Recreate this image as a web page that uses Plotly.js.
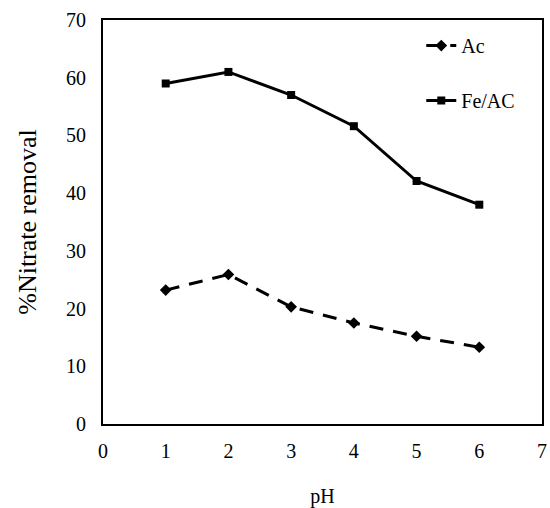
<!DOCTYPE html>
<html>
<head>
<meta charset="utf-8">
<script src="https://cdn.plot.ly/plotly-3.0.1.min.js"></script>
<style>html,body{margin:0;padding:0;background:#fff;}#chart{width:550px;height:508px;}</style>
</head>
<body>
<div id="chart"></div>
<script>
var pH = [1, 2, 3, 4, 5, 6];
var acRemoval = [23.2, 25.9, 20.3, 17.5, 15.2, 13.3];
var feacRemoval = [59.0, 61.0, 57.0, 51.6, 42.1, 38.0];
var xTicks = [0, 1, 2, 3, 4, 5, 6, 7];
var yTicks = [0, 10, 20, 30, 40, 50, 60, 70];

var fam = 'Liberation Serif, Times New Roman, serif';
var font = {family: fam, size: 20, color: '#000'};

var traces = [
  {x: pH, y: acRemoval, name: 'Ac', type: 'scatter', mode: 'lines+markers',
   legendgroup: 'a',
   line: {color: '#000', width: 3, dash: '14px,10px'},
   marker: {symbol: 'diamond', size: 9, color: '#000'}},
  {x: pH, y: feacRemoval, name: 'Fe/AC', type: 'scatter', mode: 'lines+markers',
   legendgroup: 'b',
   line: {color: '#000', width: 3},
   marker: {symbol: 'square', size: 8, color: '#000'}}
];

var layout = {
  width: 550, height: 508,
  margin: {l: 103, r: 8, t: 20, b: 84},
  paper_bgcolor: '#fff', plot_bgcolor: '#fff',
  font: font,
  showlegend: true,
  legend: {x: 0.725, y: 0.985, xanchor: 'left', yanchor: 'top',
           bgcolor: 'rgba(0,0,0,0)', borderwidth: 0,
           traceorder: 'grouped', tracegroupgap: 26,
           font: font},
  xaxis: {range: [0, 7], tickvals: xTicks, ticktext: xTicks.map(String),
          showgrid: false, zeroline: false, showline: true, linecolor: '#000', linewidth: 2,
          mirror: true, ticks: '', ticklen: 0, tickfont: font, ticklabelstandoff: 8,
          title: {text: 'pH', font: font, standoff: 28}},
  yaxis: {range: [0, 70], tickvals: yTicks, ticktext: yTicks.map(String),
          showgrid: false, zeroline: false, showline: true, linecolor: '#000', linewidth: 2,
          mirror: true, ticks: '', ticklen: 0, tickfont: font, ticklabelstandoff: 11,
          title: {text: '%Nitrate removal', font: {family: fam, size: 26, color: '#000'}, standoff: 22}}
};

Plotly.newPlot('chart', traces, layout, {displayModeBar: false, staticPlot: true});
</script>
</body>
</html>
